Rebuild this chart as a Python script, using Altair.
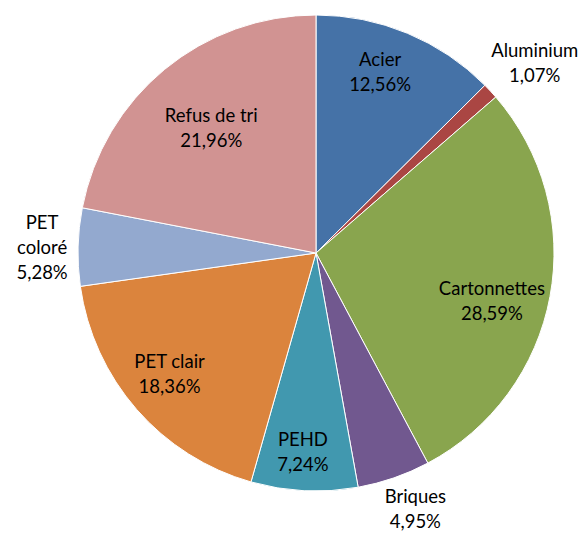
import altair as alt
import pandas as pd

categories = ["Acier", "Aluminium", "Cartonnettes", "Briques", "PEHD", "PET clair", "PET coloré", "Refus de tri"]
shares = [12.56, 1.07, 28.59, 4.95, 7.24, 18.36, 5.28, 21.96]
labels = ["Acier\n12,56%", "Aluminium\n1,07%", "Cartonnettes\n28,59%", "Briques\n4,95%",
          "PEHD\n7,24%", "PET clair\n18,36%", "PET\ncoloré\n5,28%", "Refus de tri\n21,96%"]
colors = ["#4572A7", "#AA4643", "#89A54E", "#71588F", "#4198AF", "#DB843D", "#93A9CF", "#D19392"]

df = pd.DataFrame({"cat": categories, "share": shares, "label": labels, "ord": list(range(len(categories)))})

CX, CY = 308, 245
FS = 18.5
LH = 25

# label placement: (radius, dx, dy)
place = {
    "Acier": (185, -7, -10),
    "Aluminium": (282, 12, 2),
    "Cartonnettes": (185, -6, 15),
    "Briques": (282, 7, -10),
    "PEHD": (185, -4, 15),
    "PET clair": (185, -7, 0),
    "PET coloré": (276, 2, 2),
    "Refus de tri": (185, 13, 18),
}

base = alt.Chart(df).encode(
    theta=alt.Theta("share:Q", stack=True),
    order=alt.Order("ord:Q"),
    x=alt.value(CX),
    y=alt.value(CY),
)

arcs = base.mark_arc(outerRadius=238, stroke="white", strokeWidth=1).encode(
    color=alt.Color("cat:N", scale=alt.Scale(domain=categories, range=colors), legend=None)
)

layers = [arcs]
for cat, lab in zip(categories, labels):
    r, dx, dy = place[cat]
    nlines = lab.count("\n") + 1
    pred = alt.FieldEqualPredicate(field="cat", equal=cat)
    layers.append(
        base.mark_text(
            radius=r, dx=dx, dy=dy - LH * (nlines - 1) / 2,
            font="Lato", fontSize=FS, color="black", lineBreak="\n", lineHeight=LH, baseline="middle",
        ).encode(text=alt.condition(pred, alt.Text("label:N"), alt.value("")))
    )

chart = alt.layer(*layers).properties(
    width=571, height=526, autosize=alt.AutoSizeParams(type="none"), padding=0
).configure_view(stroke=None)

chart.save("out.html", embed_options={"renderer": "svg", "actions": False})
